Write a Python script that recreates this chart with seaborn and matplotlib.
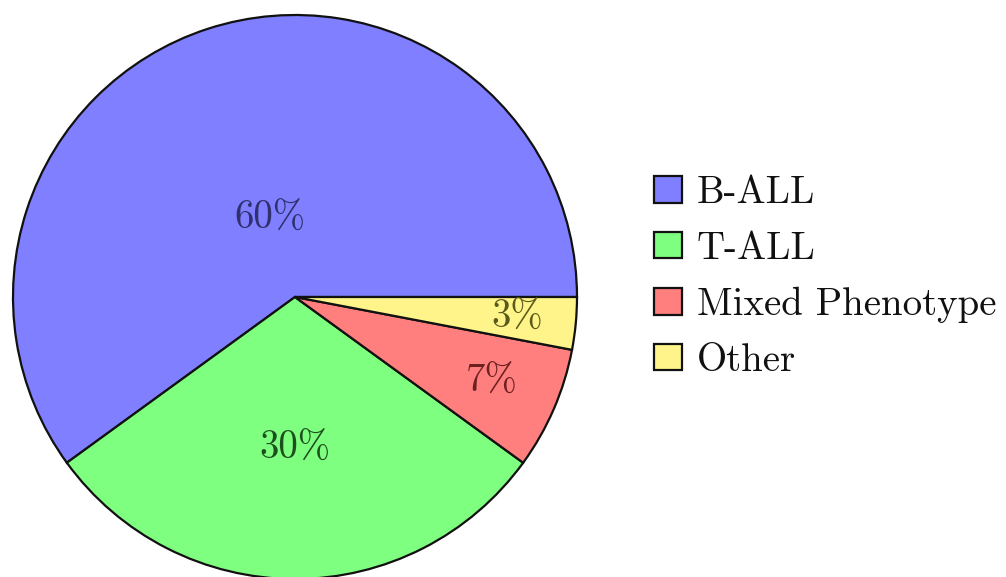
import numpy as np
import matplotlib
matplotlib.use("Agg")
import matplotlib.pyplot as plt
import seaborn as sns

categories = ["B-ALL", "T-ALL", "Mixed Phenotype", "Other"]
values = [60, 30, 7, 3]
pct_labels = ["60%", "30%", "7%", "3%"]

fill_colors = ["#7f7fff", "#7fff7f", "#ff7f7f", "#fff48a"]
text_colors = ["#30306e", "#1d4f1d", "#6e2020", "#5a5a1a"]
label_radius = [0.29, 0.54, 0.76, 0.79]

sns.set_theme(style="white")
plt.rcParams["font.family"] = ["cmr10", "DejaVu Serif"]
plt.rcParams["axes.unicode_minus"] = False
plt.rcParams["text.color"] = "#111111"

W, H = 1006, 577
fig = plt.figure(figsize=(W / 100, H / 100), dpi=100)
cx, cy, R = 295, 280, 282
ax = fig.add_axes([(cx - R) / W, (cy - R) / H, 2 * R / W, 2 * R / H])

wedges, _ = ax.pie(values, colors=fill_colors, startangle=0, counterclock=True,
                   radius=1.0, center=(0, 0),
                   wedgeprops=dict(edgecolor="#111111", linewidth=1.6))
for w in wedges:
    w.set_clip_on(False)
ax.set_xlim(-1, 1)
ax.set_ylim(-1, 1)
ax.set_aspect("equal")
ax.axis("off")

for w, lab, tc, rf in zip(wedges, pct_labels, text_colors, label_radius):
    ang = np.deg2rad((w.theta1 + w.theta2) / 2)
    ax.text(rf * np.cos(ang), rf * np.sin(ang), lab, ha="center", va="center",
            fontsize=28, color=tc)

leg = fig.legend(wedges, categories, loc="center left",
                 bbox_to_anchor=(638 / W, 1 - 277 / H), frameon=False,
                 fontsize=28, handlelength=0.72, handleheight=0.67,
                 handletextpad=0.39, labelspacing=0.51, borderaxespad=0)

fig.savefig("out.png", dpi=100, facecolor="white")
